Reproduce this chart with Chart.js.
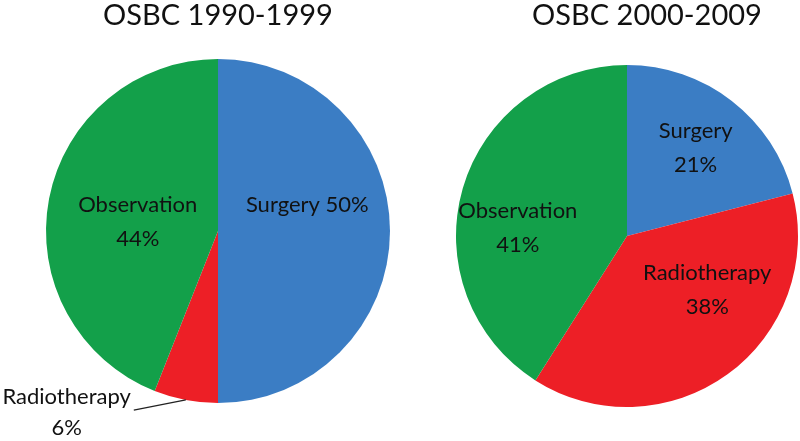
<!DOCTYPE html>
<html>
<head>
<meta charset="utf-8">
<script src="https://cdn.jsdelivr.net/npm/chart.js@4.4.0/dist/chart.umd.min.js"></script>
<style>
  html, body { margin: 0; padding: 0; background: #fff; }
  #wrap { position: relative; width: 800px; height: 441px; overflow: hidden; font-family: Lato, sans-serif; }
  canvas { position: absolute; top: 0; }
  #pieLeft { left: 0; }
  #pieRight { left: 436px; }
  .title { position: absolute; top: -1px; width: 300px; margin-left: -150px; text-align: center;
           font-size: 29px; line-height: 29px; color: #111; white-space: nowrap; }
</style>
</head>
<body>
<div id="wrap">
  <canvas id="pieLeft" width="436" height="441"></canvas>
  <canvas id="pieRight" width="364" height="441"></canvas>
  <div class="title" id="titleLeft" style="left:218px"></div>
  <div class="title" id="titleRight" style="left:647px"></div>
</div>
<script>
// data
const categories = ['Surgery', 'Radiotherapy', 'Observation'];
const shares1990 = [50, 6, 44];
const shares2000 = [21, 38, 41];
const chartTitles = ['OSBC 1990-1999', 'OSBC 2000-2009'];
const sliceColors = ['#3b7dc4', '#ed1f26', '#13a04a'];

document.getElementById('titleLeft').textContent = chartTitles[0];
document.getElementById('titleRight').textContent = chartTitles[1];

// Draw the percentage labels inside (or next to) each slice
const sliceLabels = {
    id: 'sliceLabels',
    afterDatasetsDraw(chart, args, opts) {
        const ctx = chart.ctx;
        const meta = chart.getDatasetMeta(0);
        const values = chart.data.datasets[0].data;
        ctx.save();
        ctx.font = opts.size + 'px Lato, sans-serif';
        ctx.fillStyle = '#111';
        ctx.textAlign = 'center';
        ctx.textBaseline = 'middle';
        meta.data.forEach((arc, i) => {
            const p = opts.placement[i];
            const { x, y, startAngle, endAngle, outerRadius } =
                arc.getProps(['x', 'y', 'startAngle', 'endAngle', 'outerRadius'], true);
            const mid = (startAngle + endAngle) / 2;
            const a = mid + p.shift * Math.PI / 180;
            const cx = x + Math.cos(a) * p.r * outerRadius;
            const cy = y + Math.sin(a) * p.r * outerRadius;
            const name = chart.data.labels[i];
            const pct = values[i] + '%';
            const lines = p.oneLine ? [name + ' ' + pct] : [name, pct];
            const gap = p.gap || opts.lineGap;
            lines.forEach((t, k) => {
                ctx.fillText(t, cx, cy + (k - (lines.length - 1) / 2) * gap);
            });
            if (p.leader) {
                const w = ctx.measureText(name).width;
                const y1 = cy - gap / 2;
                ctx.beginPath();
                ctx.moveTo(cx + w / 2 + 3, y1 + 13);
                ctx.lineTo(x + Math.cos(mid) * outerRadius, y + Math.sin(mid) * outerRadius);
                ctx.strokeStyle = '#222';
                ctx.lineWidth = 1.3;
                ctx.stroke();
            }
        });
        ctx.restore();
    }
};

function createPie(canvasId, values, padding, placement) {
    const canvas = document.getElementById(canvasId);
    return new Chart(canvas.getContext('2d'), {
        type: 'pie',
        data: {
            labels: categories,
            datasets: [{
                data: values,
                backgroundColor: sliceColors,
                borderWidth: 0,
                hoverOffset: 0,
                offset: 0
            }]
        },
        options: {
            responsive: false,
            animation: false,
            layout: { padding: padding },
            plugins: {
                legend: { display: false },
                tooltip: { enabled: false },
                title: { display: false },
                sliceLabels: { size: 22, lineGap: 34, placement: placement }
            }
        },
        plugins: [sliceLabels]
    });
}

createPie('pieLeft', shares1990,
    { left: 46, right: 46, top: 59, bottom: 38 },
    [
        { r: 0.54, shift: -16, oneLine: true },
        { r: 1.375, shift: 29, leader: true, gap: 31 },
        { r: 0.47, shift: -4 }
    ]);

createPie('pieRight', shares2000,
    { left: 20, right: 2, top: 65, bottom: 34 },
    [
        { r: 0.655, shift: 0 },
        { r: 0.566, shift: -20 },
        { r: 0.64, shift: -12 }
    ]);
</script>
</body>
</html>
